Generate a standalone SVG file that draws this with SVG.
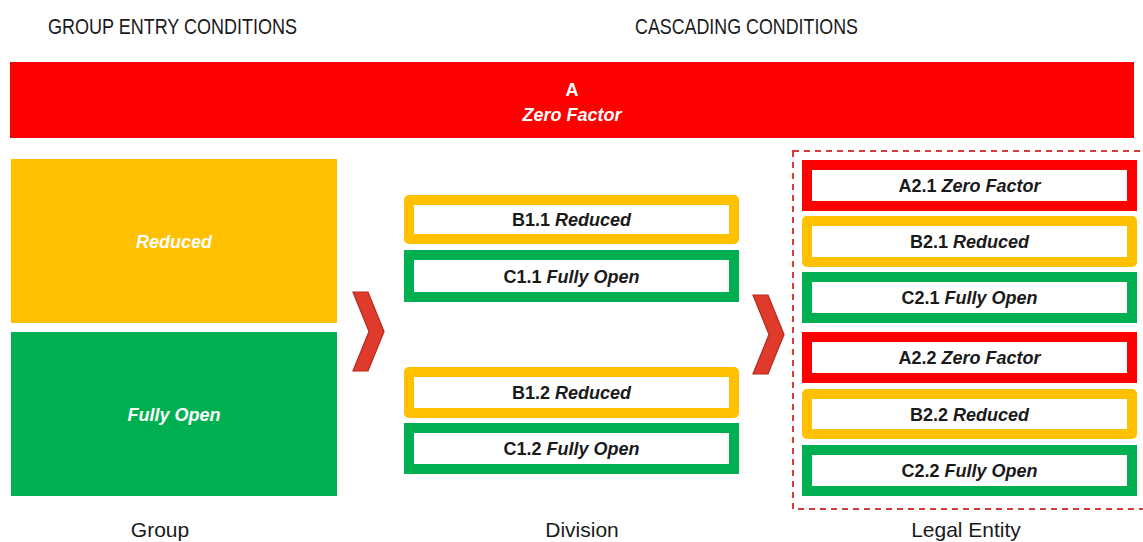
<svg xmlns="http://www.w3.org/2000/svg" width="1143" height="542" viewBox="0 0 1143 542">
<style>
.hdr{font-family:"Liberation Sans Narrow","Liberation Sans",Arial,sans-serif;font-size:22px;fill:#1a1a1a}
.lbl{font-family:"Liberation Sans",Arial,sans-serif;font-size:21px;fill:#1a1a1a;text-anchor:middle}
.wt{font-family:"Liberation Sans",Arial,sans-serif;font-size:18px;font-weight:bold;fill:#ffffff;text-anchor:middle}
.bt{font-family:"Liberation Sans",Arial,sans-serif;font-size:18px;font-weight:bold;fill:#1a1a1a;text-anchor:middle}
.it{font-style:italic}
.r{fill:#ffffff;stroke:#ff0000;stroke-width:10}
.y{fill:#ffffff;stroke:#ffc000;stroke-width:10;stroke-linejoin:round}
.g{fill:#ffffff;stroke:#00b050;stroke-width:10}
.chev{fill:#e03a2c;stroke:#b8281c;stroke-width:1.2}
</style>
<text class="hdr" x="48" y="34" textLength="249" lengthAdjust="spacingAndGlyphs">GROUP ENTRY CONDITIONS</text>
<text class="hdr" x="635" y="34" textLength="223" lengthAdjust="spacingAndGlyphs">CASCADING CONDITIONS</text>

<g id="nodeA">
<rect x="10" y="62" width="1124" height="76" fill="#ff0000"/>
<text class="wt" x="572" y="96">A</text>
<text class="wt it" x="572" y="121">Zero Factor</text>
</g>

<g id="groupReduced">
<rect x="11" y="159" width="326" height="164" fill="#ffc000"/>
<text class="wt it" x="174" y="248">Reduced</text>
</g>
<g id="groupFullyOpen">
<rect x="11" y="332" width="326" height="164" fill="#00b050"/>
<text class="wt it" x="174" y="421">Fully Open</text>
</g>

<g id="B1.1"><rect class="y" x="409" y="200" width="325" height="39"/><text class="bt" x="571.5" y="226">B1.1 <tspan class="it">Reduced</tspan></text></g>
<g id="C1.1"><rect class="g" x="409" y="255" width="325" height="42"/><text class="bt" x="571.5" y="282.5">C1.1 <tspan class="it">Fully Open</tspan></text></g>
<g id="B1.2"><rect class="y" x="409" y="372" width="325" height="41"/><text class="bt" x="571.5" y="399">B1.2 <tspan class="it">Reduced</tspan></text></g>
<g id="C1.2"><rect class="g" x="409" y="428" width="325" height="41"/><text class="bt" x="571.5" y="455">C1.2 <tspan class="it">Fully Open</tspan></text></g>

<g id="legalEntityFrame">
<rect x="793" y="151" width="360" height="358" fill="none" stroke="#d63c3c" stroke-width="2" stroke-dasharray="6 5"/>
</g>

<g id="A2.1"><rect class="r" x="807" y="165" width="325" height="41"/><text class="bt" x="969.5" y="192">A2.1 <tspan class="it">Zero Factor</tspan></text></g>
<g id="B2.1"><rect class="y" x="807" y="221" width="325" height="41"/><text class="bt" x="969.5" y="248">B2.1 <tspan class="it">Reduced</tspan></text></g>
<g id="C2.1"><rect class="g" x="807" y="277" width="325" height="41"/><text class="bt" x="969.5" y="304">C2.1 <tspan class="it">Fully Open</tspan></text></g>
<g id="A2.2"><rect class="r" x="807" y="337" width="325" height="41"/><text class="bt" x="969.5" y="364">A2.2 <tspan class="it">Zero Factor</tspan></text></g>
<g id="B2.2"><rect class="y" x="807" y="394" width="325" height="40"/><text class="bt" x="969.5" y="420.5">B2.2 <tspan class="it">Reduced</tspan></text></g>
<g id="C2.2"><rect class="g" x="807" y="450" width="325" height="41"/><text class="bt" x="969.5" y="477">C2.2 <tspan class="it">Fully Open</tspan></text></g>

<g id="connectors">
<path class="chev" d="M353,292 L368,292 L384,331.5 L368,371 L353,371 L369,331.5 Z"/>
<path class="chev" d="M753,295 L768,295 L784,334.5 L768,374 L753,374 L769,334.5 Z"/>
</g>

<text class="lbl" x="160" y="537">Group</text>
<text class="lbl" x="582" y="537">Division</text>
<text class="lbl" x="966" y="537">Legal Entity</text>
</svg>
